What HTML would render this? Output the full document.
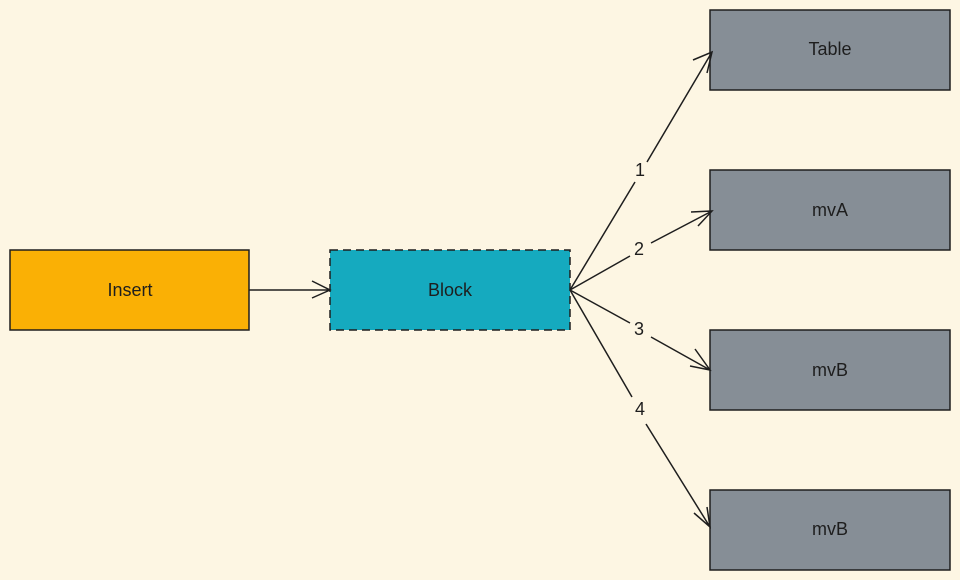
<!DOCTYPE html>
<html><head><style>
body{margin:0;background:#fdf6e3;}
svg{display:block}
text{font-family:"Liberation Sans",sans-serif;font-size:18px;fill:#1e1e1e;text-anchor:middle;dominant-baseline:middle}
</style></head><body>
<svg width="960" height="580" viewBox="0 0 960 580">
<rect width="960" height="580" fill="#fdf6e3"/>
<g stroke="#1e1e1e" stroke-width="1.5">
<rect x="10" y="250" width="239" height="80" fill="#fab005"/>
<rect x="330" y="250" width="240" height="80" fill="#15aabf" stroke-dasharray="8 5"/>
<rect x="710" y="10" width="240" height="80" fill="#868e96"/>
<rect x="710" y="170" width="240" height="80" fill="#868e96"/>
<rect x="710" y="330" width="240" height="80" fill="#868e96"/>
<rect x="710" y="490" width="240" height="80" fill="#868e96"/>
</g>
<g stroke="#1e1e1e" stroke-width="1.5" fill="none">
<path d="M249 290 L330 290 M312 281 L330 290 L312 298"/>
<path d="M570 290 L635 182 M647 162 L712 52 M693 60 L712 52 L707 73"/>
<path d="M570 290 L630 256 M651 243 L712 211 M691 212 L712 211 L698 226"/>
<path d="M570 290 L630 323 M651 337 L710 370 M695 349 L710 370 L690 366"/>
<path d="M570 290 L632 397 M646 424 L710 527 M707 507 L710 527 L694 513"/>
</g>
<text x="130" y="291">Insert</text>
<text x="450" y="291">Block</text>
<text x="830" y="50">Table</text>
<text x="830" y="211">mvA</text>
<text x="830" y="371">mvB</text>
<text x="830" y="530">mvB</text>
<text x="640" y="171">1</text>
<text x="639" y="250">2</text>
<text x="639" y="330">3</text>
<text x="640" y="410">4</text>
</svg>
</body></html>
